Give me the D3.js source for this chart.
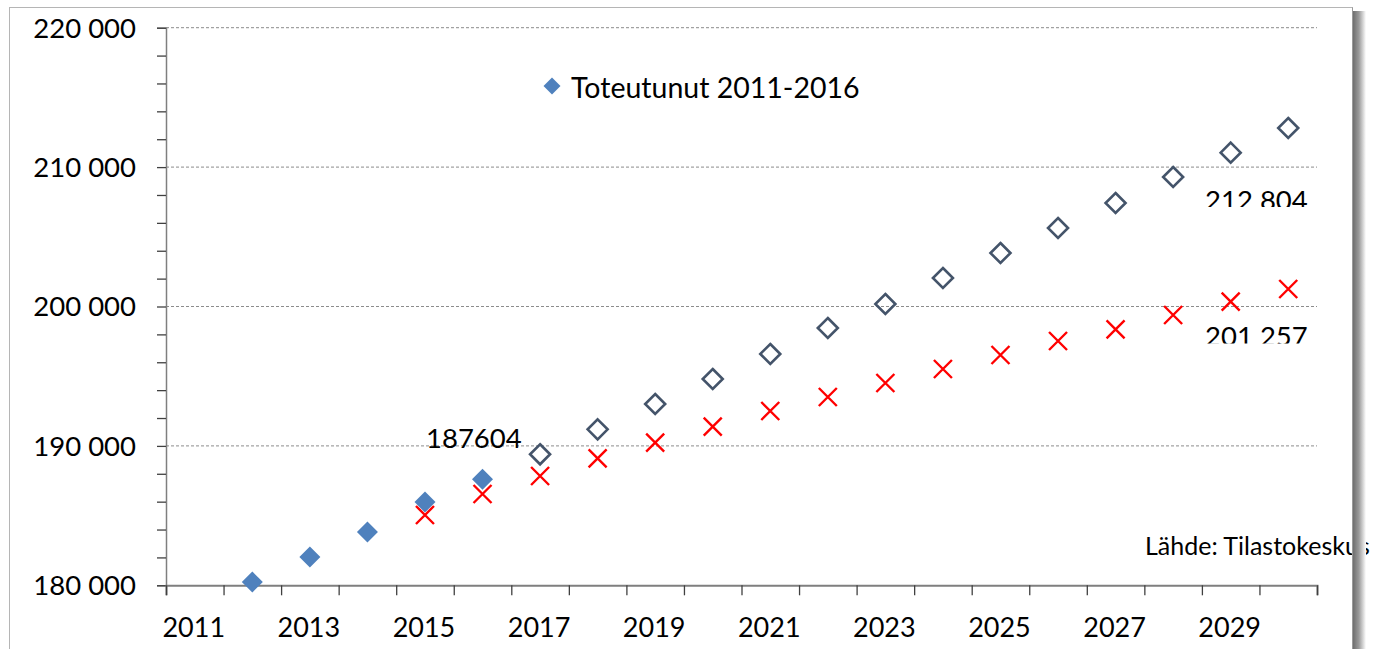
<!DOCTYPE html>
<html>
<head>
<meta charset="utf-8">
<script src="https://cdn.jsdelivr.net/npm/d3@7"></script>
<style>
  body { margin: 0; background: #fff; }
  text { font-family: Lato, "Open Sans", sans-serif; fill: #000; }
</style>
</head>
<body>
<script>
// years on the category axis
var years = d3.range(2011, 2031)
// toteutunut (blue filled diamonds)
var actual = [null, 180237, 182030, 183823, 185975, 187604,
  null, null, null, null, null, null, null, null, null, null, null, null, null, null]
// ennuste, open diamonds
var forecastHigh = [null, null, null, null, null, null,
  189398, 191191, 193006, 194800, 196594, 198459, 200180, 202046,
  203839, 205633, 207426, 209291, 211034, 212804]
// ennuste, red crosses
var forecastLow = [null, null, null, null, 185043, 186550,
  187841, 189111, 190230, 191378, 192504, 193509, 194513, 195517,
  196522, 197526, 198365, 199391, 200346, 201257]
var yTicks = [180000, 190000, 200000, 210000, 220000]
var xLabels = [2011, 2013, 2015, 2017, 2019, 2021, 2023, 2025, 2027, 2029]

var W = 1377, H = 649
var svg = d3.select('body').append('svg').attr('width', W).attr('height', H)

var fi = d3.formatLocale({decimal: ',', thousands: ' ', grouping: [3], currency: ['', '']})
var fmt = fi.format(',d')

var x = d3.scaleBand().domain(years).range([166, 1317])
var xi = d3.scaleLinear().domain([0, years.length]).range([166, 1317])
var y = d3.scaleLinear().domain([180000, 220000]).range([585.3, 27.7])

// frame + shadow
var defs = svg.append('defs')
var g1 = defs.append('linearGradient').attr('id', 'shR')
g1.append('stop').attr('offset', '0%').attr('stop-color', '#6e6e6e')
g1.append('stop').attr('offset', '45%').attr('stop-color', '#9a9a9a')
g1.append('stop').attr('offset', '100%').attr('stop-color', '#fff')
defs.append('clipPath').attr('id', 'c1').append('rect').attr('x', 1150).attr('y', 180).attr('width', 200).attr('height', 27)
defs.append('clipPath').attr('id', 'c2').append('rect').attr('x', 1150).attr('y', 315).attr('width', 200).attr('height', 28.5)

svg.append('rect').attr('x', 9.5).attr('y', 7.5).attr('width', 1343).attr('height', 700)
  .attr('fill', '#fff').attr('stroke', '#b5b5b5').attr('stroke-width', 1)

// gridlines
svg.append('g').selectAll('line').data(yTicks.slice(1)).enter().append('line')
  .attr('x1', 166).attr('x2', 1317)
  .attr('y1', function(d){return y(d)}).attr('y2', function(d){return y(d)})
  .attr('stroke', '#8c8c8c').attr('stroke-width', 1).attr('stroke-dasharray', '3,2')

// y axis
var yAxis = svg.append('g').attr('transform', 'translate(166,0)')
  .call(d3.axisLeft(y).tickValues(d3.range(180000, 220001, 2000)).tickSize(9).tickFormat(''))
yAxis.select('.domain').attr('stroke', '#7f7f7f').attr('stroke-width', 1.5)
yAxis.selectAll('.tick line').attr('stroke', '#404040').attr('stroke-width', 1.3)
svg.append('g').selectAll('text').data(yTicks).enter().append('text')
  .attr('x', 136).attr('y', function(d){return y(d)}).attr('dy', '0.36em')
  .attr('text-anchor', 'end').style('font-size', '27.5px')
  .text(function(d){return fmt(d)})

// x axis
var xAxis = svg.append('g').attr('transform', 'translate(0,585.3)')
  .call(d3.axisBottom(xi).tickValues(d3.range(0, years.length + 1)).tickSize(10).tickFormat(''))
xAxis.select('.domain').attr('stroke', '#7f7f7f').attr('stroke-width', 2)
xAxis.selectAll('.tick line').attr('stroke', '#404040').attr('stroke-width', 1.3)
svg.append('g').selectAll('text').data(xLabels).enter().append('text')
  .attr('x', function(d){return x(d) + x.bandwidth() / 2 - 1})
  .attr('y', 637).attr('text-anchor', 'middle').style('font-size', '27px')
  .text(function(d){return d})

var diamond = function(r){ return 'M0,' + (-r) + 'L' + r + ',0L0,' + r + 'L' + (-r) + ',0Z' }
function pts(arr){
  return years.map(function(yr, i){return {year: yr, v: arr[i]}}).filter(function(d){return d.v != null})
}

// actual
svg.append('g').selectAll('path').data(pts(actual)).enter().append('path')
  .attr('d', diamond(10.5))
  .attr('transform', function(d){return 'translate(' + (x(d.year) + x.bandwidth() / 2) + ',' + y(d.v) + ')'})
  .attr('fill', '#4f81bd')

// open diamonds
svg.append('g').selectAll('path').data(pts(forecastHigh)).enter().append('path')
  .attr('d', diamond(10))
  .attr('transform', function(d){return 'translate(' + (x(d.year) + x.bandwidth() / 2) + ',' + y(d.v) + ')'})
  .attr('fill', 'none').attr('stroke', '#44546a').attr('stroke-width', 2.6)

// crosses
svg.append('g').selectAll('path').data(pts(forecastLow)).enter().append('path')
  .attr('d', 'M-9,-9L9,9M-9,9L9,-9')
  .attr('transform', function(d){return 'translate(' + (x(d.year) + x.bandwidth() / 2) + ',' + y(d.v) + ')'})
  .attr('fill', 'none').attr('stroke', '#ff0000').attr('stroke-width', 2.4)

// data labels
svg.append('text').attr('x', 426).attr('y', y(187604) - 31).style('font-size', '27.5px').text('187604')
svg.append('text').attr('x', 1205).attr('y', 210).attr('clip-path', 'url(#c1)')
  .style('font-size', '27.5px').text(fmt(forecastHigh[19]))
svg.append('text').attr('x', 1205).attr('y', 345.5).attr('clip-path', 'url(#c2)')
  .style('font-size', '27.5px').text(fmt(forecastLow[19]))

// legend
svg.append('path').attr('d', diamond(8.5)).attr('transform', 'translate(552,86)').attr('fill', '#4f81bd')
svg.append('text').attr('x', 571).attr('y', 97.5).style('font-size', '28.5px').text('Toteutunut 2011-2016')

// source
svg.append('text').attr('x', 1145).attr('y', 555).style('font-size', '25px').text('Lähde: Tilastokeskus')

// right shadow over everything
svg.append('rect').attr('x', 1353).attr('y', 11).attr('width', 13).attr('height', H).attr('fill', 'url(#shR)')
svg.append('line').attr('x1', 1352.5).attr('x2', 1352.5).attr('y1', 7.5).attr('y2', H)
  .attr('stroke', '#9a9a9a').attr('stroke-width', 1)
</script>
</body>
</html>
